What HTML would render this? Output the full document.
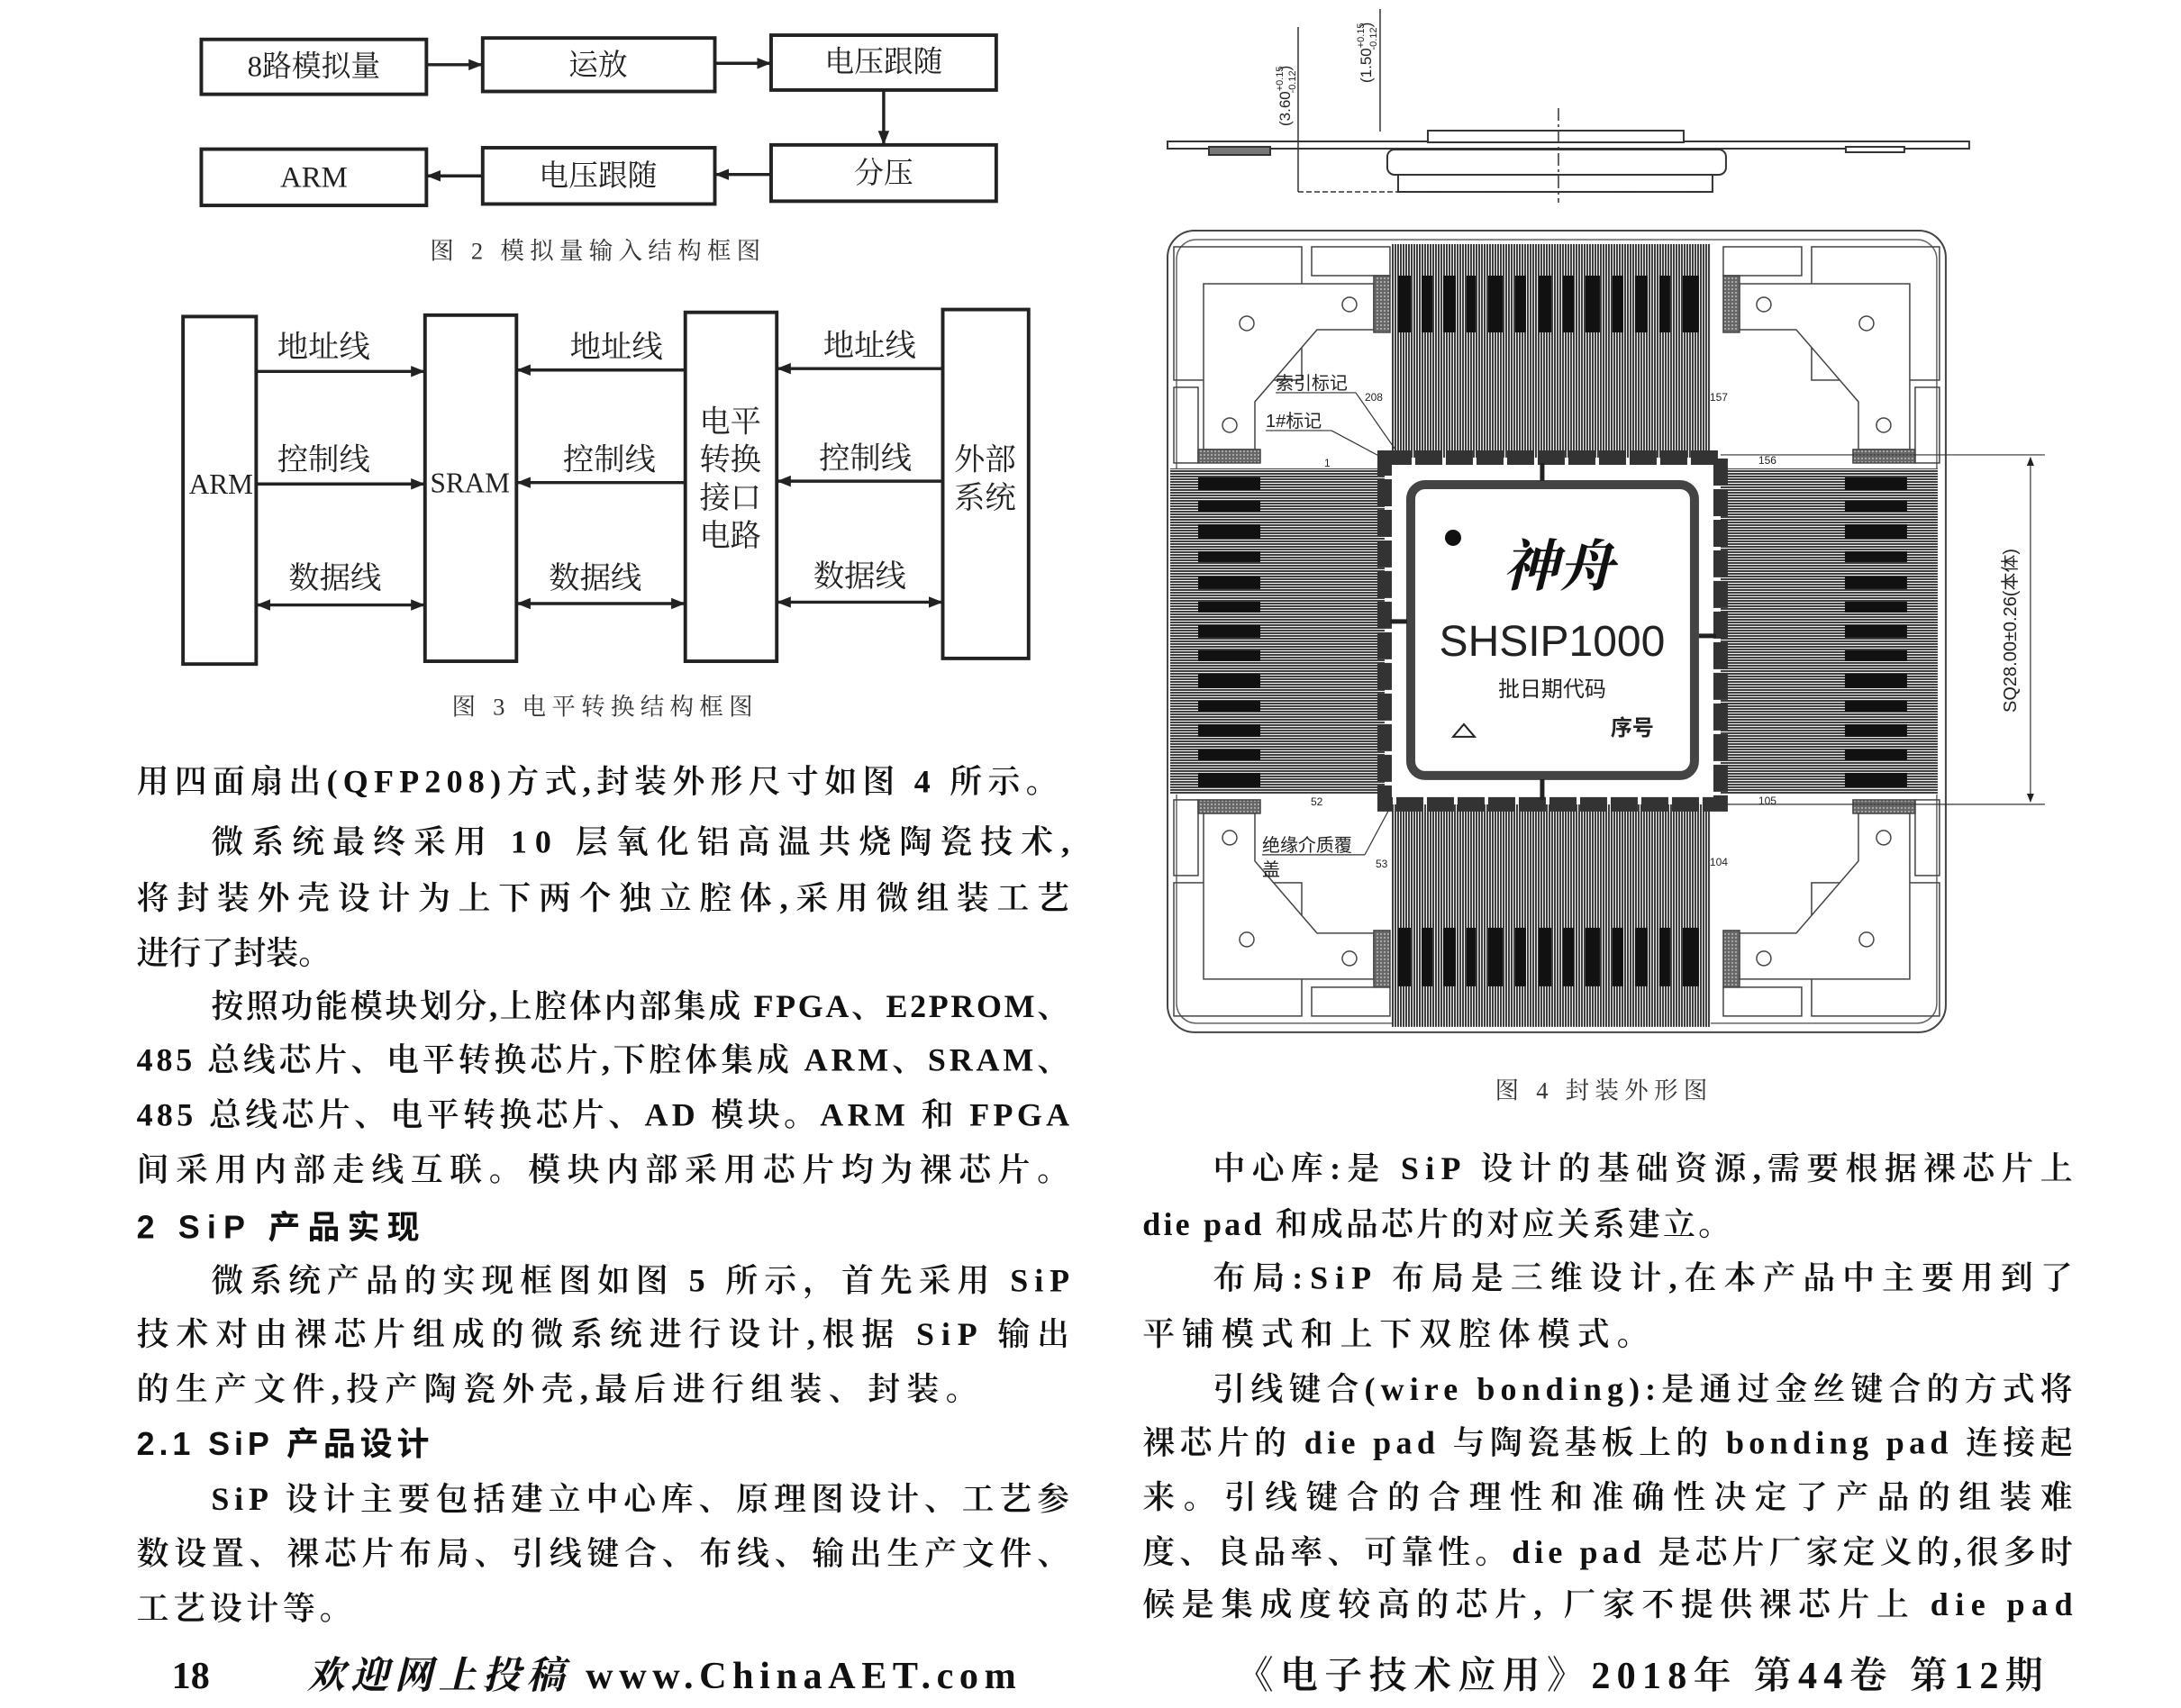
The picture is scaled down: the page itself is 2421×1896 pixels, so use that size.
<!DOCTYPE html>
<html><head><meta charset="utf-8"><style>
html,body{margin:0;padding:0;background:#fff}
svg{display:block}
.t{font-family:"Liberation Serif","Noto Serif CJK SC",serif;font-size:23px;fill:#111;font-weight:600}
.h{font-family:"Liberation Sans","Noto Sans CJK SC",sans-serif;font-size:23px;fill:#111;font-weight:bold}
.b{font-family:"Liberation Serif","Noto Serif CJK SC",serif;font-size:21px;fill:#222}
.c{font-family:"Liberation Serif","Noto Serif CJK SC",serif;font-size:17px;fill:#333;letter-spacing:4px}
.s{font-family:"Liberation Sans","Noto Sans CJK SC",sans-serif;fill:#222}
</style></head><body>
<svg width="2421" height="1896" viewBox="0 0 1550 1214" xmlns="http://www.w3.org/2000/svg">
<defs>
<marker id="a" markerWidth="10" markerHeight="8" refX="9" refY="4" orient="auto" markerUnits="userSpaceOnUse"><path d="M0,0 L10,4 L0,8 z" fill="#222"/></marker>
<marker id="as" markerWidth="10" markerHeight="8" refX="1" refY="4" orient="auto" markerUnits="userSpaceOnUse"><path d="M10,0 L0,4 L10,8 z" fill="#222"/></marker>
<pattern id="vl" width="3" height="10" patternUnits="userSpaceOnUse"><rect width="3" height="10" fill="#fff"/><rect width="2" height="10" fill="#3a3a3a"/></pattern>
<pattern id="hl" width="10" height="3" patternUnits="userSpaceOnUse"><rect width="10" height="3" fill="#fff"/><rect width="10" height="2" fill="#3a3a3a"/></pattern>
<pattern id="hatch" width="4" height="4" patternUnits="userSpaceOnUse"><rect width="4" height="4" fill="#666"/><rect width="2" height="2" fill="#aaa"/></pattern>
</defs>
<rect width="1550" height="1214" fill="#fff"/>

<!-- Fig 2 -->
<g fill="#fff" stroke="#222" stroke-width="2.5">
<rect x="143" y="28" width="160" height="39"/>
<rect x="343" y="27" width="165" height="38"/>
<rect x="548" y="25" width="160" height="39"/>
<rect x="143" y="106" width="160" height="40"/>
<rect x="343" y="105" width="165" height="40"/>
<rect x="548" y="103" width="160" height="40"/>
</g>
<g stroke="#222" stroke-width="2.2" fill="none">
<line x1="303" y1="46" x2="342" y2="46" marker-end="url(#a)"/>
<line x1="508" y1="45" x2="547" y2="45" marker-end="url(#a)"/>
<line x1="628" y1="64" x2="628" y2="102" marker-end="url(#a)"/>
<line x1="548" y1="124" x2="509" y2="124" marker-end="url(#a)"/>
<line x1="343" y1="125" x2="304" y2="125" marker-end="url(#a)"/>
</g>
<g class="b" text-anchor="middle">
<text x="223" y="54">8路模拟量</text>
<text x="425" y="53">运放</text>
<text x="628" y="51">电压跟随</text>
<text x="223" y="133">ARM</text>
<text x="425" y="132">电压跟随</text>
<text x="628" y="130">分压</text>
</g>
<text class="c" x="425" y="184" text-anchor="middle">图 2  模拟量输入结构框图</text>

<!-- Fig 3 -->
<g fill="#fff" stroke="#222" stroke-width="2.5">
<rect x="130" y="225" width="52" height="247"/>
<rect x="302" y="224" width="65" height="246"/>
<rect x="487" y="222" width="65" height="248"/>
<rect x="670" y="220" width="61" height="248"/>
</g>
<g stroke="#222" stroke-width="2.2" fill="none">
<line x1="182" y1="264" x2="301" y2="264" marker-end="url(#a)"/>
<line x1="487" y1="263" x2="368" y2="263" marker-end="url(#a)"/>
<line x1="670" y1="262" x2="553" y2="262" marker-end="url(#a)"/>
<line x1="182" y1="344" x2="301" y2="344" marker-end="url(#a)"/>
<line x1="487" y1="343" x2="368" y2="343" marker-end="url(#a)"/>
<line x1="670" y1="342" x2="553" y2="342" marker-end="url(#a)"/>
<line x1="183" y1="430" x2="301" y2="430" marker-start="url(#as)" marker-end="url(#a)"/>
<line x1="368" y1="429" x2="486" y2="429" marker-start="url(#as)" marker-end="url(#a)"/>
<line x1="553" y1="428" x2="669" y2="428" marker-start="url(#as)" marker-end="url(#a)"/>
</g>
<g class="b" text-anchor="middle" style="font-size:22px">
<text x="230" y="254">地址线</text><text x="438" y="254">地址线</text><text x="618" y="253">地址线</text>
<text x="230" y="334">控制线</text><text x="433" y="334">控制线</text><text x="615" y="333">控制线</text>
<text x="238" y="418">数据线</text><text x="423" y="418">数据线</text><text x="611" y="417">数据线</text>
<text x="157" y="351" style="font-size:20px">ARM</text>
<text x="334" y="350" style="font-size:20px">SRAM</text>
<text x="519" y="307">电平</text><text x="519" y="334">转换</text><text x="519" y="361">接口</text><text x="519" y="388">电路</text>
<text x="700" y="334">外部</text><text x="700" y="361">系统</text>
</g>
<text class="c" x="430" y="508" text-anchor="middle">图 3  电平转换结构框图</text>

<!-- Fig 4 (original coords) -->
<g transform="scale(0.64023)">
<g stroke="#333" stroke-width="2" fill="#fff">
<rect x="1296" y="157" width="890" height="8"/>
<rect x="1342" y="163" width="68" height="9" fill="#777"/>
<rect x="2049" y="163" width="65" height="6"/>
<rect x="1585" y="145" width="284" height="13"/>
<rect x="1540" y="166" width="376" height="28" rx="8"/>
<rect x="1552" y="194" width="349" height="19"/>
</g>
<g stroke="#333" stroke-width="1.5" fill="none">
<line x1="1441" y1="30" x2="1441" y2="213"/>
<line x1="1532" y1="10" x2="1532" y2="146"/>
<line x1="1441" y1="213" x2="1900" y2="213" stroke-dasharray="6,3"/>
<line x1="1730" y1="120" x2="1730" y2="225" stroke-dasharray="14,4,3,4"/>
</g>
<text class="s" transform="translate(1432,140) rotate(-90)" font-size="17">(3.60<tspan font-size="11" dy="-8">+0.15</tspan><tspan font-size="11" dx="-30" dy="14">-0.12</tspan><tspan dy="-6">)</tspan></text>
<text class="s" transform="translate(1522,92) rotate(-90)" font-size="17">(1.50<tspan font-size="11" dy="-8">+0.15</tspan><tspan font-size="11" dx="-30" dy="14">-0.12</tspan><tspan dy="-6">)</tspan></text>

<rect x="1296" y="256" width="864" height="890" rx="30" fill="#fff" stroke="#444" stroke-width="2"/>
<rect x="1306" y="266" width="844" height="870" rx="22" fill="none" stroke="#666" stroke-width="1.5"/>

<g id="cn" stroke="#444" stroke-width="1.5" fill="#fff">
<rect x="1303" y="274" width="142" height="148" fill="none"/>
<rect x="1456" y="274" width="87" height="32" fill="none"/>
<rect x="1303" y="430" width="27" height="84" fill="none"/>
<polygon points="1336,315 1525,315 1525,366 1462,366 1393,446 1393,499 1336,499"/>
<rect x="1525" y="306" width="18" height="63" fill="url(#hatch)"/>
<rect x="1330" y="499" width="69" height="15" fill="url(#hatch)"/>
<circle cx="1384" cy="359" r="8"/><circle cx="1498" cy="338" r="8"/><circle cx="1365" cy="472" r="8"/>
</g>
<use href="#cn" transform="translate(3456,0) scale(-1,1)"/>
<use href="#cn" transform="translate(0,1402) scale(1,-1)"/>
<use href="#cn" transform="translate(3456,1402) scale(-1,-1)"/>

<rect x="1545" y="271" width="354" height="240" fill="url(#vl)"/>
<rect x="1545" y="893" width="354" height="247" fill="url(#vl)"/>
<rect x="1299" y="520" width="238" height="362" fill="url(#hl)"/>
<rect x="1910" y="520" width="241" height="362" fill="url(#hl)"/>
<g fill="#111">
<rect x="1552" y="306" width="14" height="63"/><rect x="1578" y="306" width="12" height="63"/><rect x="1602" y="306" width="14" height="63"/><rect x="1628" y="306" width="10" height="63"/><rect x="1652" y="306" width="16" height="63"/><rect x="1682" y="306" width="12" height="63"/><rect x="1708" y="306" width="14" height="63"/><rect x="1735" y="306" width="12" height="63"/><rect x="1760" y="306" width="16" height="63"/><rect x="1790" y="306" width="12" height="63"/><rect x="1815" y="306" width="14" height="63"/><rect x="1842" y="306" width="12" height="63"/><rect x="1868" y="306" width="18" height="63"/>
<rect x="1552" y="1030" width="14" height="65"/><rect x="1578" y="1030" width="12" height="65"/><rect x="1602" y="1030" width="14" height="65"/><rect x="1628" y="1030" width="10" height="65"/><rect x="1652" y="1030" width="16" height="65"/><rect x="1682" y="1030" width="12" height="65"/><rect x="1708" y="1030" width="14" height="65"/><rect x="1735" y="1030" width="12" height="65"/><rect x="1760" y="1030" width="16" height="65"/><rect x="1790" y="1030" width="12" height="65"/><rect x="1815" y="1030" width="14" height="65"/><rect x="1842" y="1030" width="12" height="65"/><rect x="1868" y="1030" width="18" height="65"/>
<rect x="1330" y="530" width="69" height="14"/><rect x="1330" y="556" width="69" height="12"/><rect x="1330" y="582" width="69" height="16"/><rect x="1330" y="612" width="69" height="12"/><rect x="1330" y="640" width="69" height="14"/><rect x="1330" y="668" width="69" height="12"/><rect x="1330" y="694" width="69" height="14"/><rect x="1330" y="722" width="69" height="12"/><rect x="1330" y="748" width="69" height="16"/><rect x="1330" y="778" width="69" height="12"/><rect x="1330" y="804" width="69" height="14"/><rect x="1330" y="832" width="69" height="12"/><rect x="1330" y="858" width="69" height="16"/>
<rect x="2048" y="530" width="69" height="14"/><rect x="2048" y="556" width="69" height="12"/><rect x="2048" y="582" width="69" height="16"/><rect x="2048" y="612" width="69" height="12"/><rect x="2048" y="640" width="69" height="14"/><rect x="2048" y="668" width="69" height="12"/><rect x="2048" y="694" width="69" height="14"/><rect x="2048" y="722" width="69" height="12"/><rect x="2048" y="748" width="69" height="16"/><rect x="2048" y="778" width="69" height="12"/><rect x="2048" y="804" width="69" height="14"/><rect x="2048" y="832" width="69" height="12"/><rect x="2048" y="858" width="69" height="16"/>
</g>

<rect x="1537" y="508" width="373" height="385" fill="#fff" stroke="#333" stroke-width="16" stroke-dasharray="30,4"/>
<rect x="1566" y="538" width="315" height="323" rx="16" fill="#fff" stroke="#444" stroke-width="10"/>
<line x1="1712" y1="514" x2="1712" y2="534" stroke="#222" stroke-width="5"/>
<line x1="1712" y1="865" x2="1712" y2="888" stroke="#222" stroke-width="5"/>
<line x1="1543" y1="690" x2="1562" y2="690" stroke="#222" stroke-width="5"/>
<line x1="1886" y1="706" x2="1905" y2="706" stroke="#222" stroke-width="5"/>
<circle cx="1613" cy="597" r="9" fill="#111"/>
<text x="1730" y="650" text-anchor="middle" font-family="'Noto Serif CJK SC',serif" font-size="62" font-weight="bold" font-style="italic" fill="#111">神舟</text>
<text class="s" x="1723" y="728" text-anchor="middle" font-size="48">SHSIP1000</text>
<text class="s" x="1723" y="773" text-anchor="middle" font-size="24">批日期代码</text>
<text class="s" x="1812" y="816" text-anchor="middle" font-size="24" font-weight="bold">序号</text>
<polygon points="1613,818 1625,804 1637,818" fill="none" stroke="#222" stroke-width="2"/>

<g class="s" font-size="20">
<text x="1416" y="432">索引标记</text>
<text x="1405" y="474">1#标记</text>
<text x="1401" y="945">绝缘介质覆</text>
<text x="1401" y="972">盖</text>
</g>
<g stroke="#333" stroke-width="1.2" fill="none">
<line x1="1416" y1="436" x2="1505" y2="436"/><line x1="1505" y1="436" x2="1560" y2="515"/>
<line x1="1405" y1="478" x2="1478" y2="478"/><line x1="1478" y1="478" x2="1538" y2="510"/>
<line x1="1401" y1="949" x2="1515" y2="949"/><line x1="1515" y1="949" x2="1545" y2="893"/>
<line x1="1910" y1="505" x2="2270" y2="505"/><line x1="1910" y1="893" x2="2270" y2="893"/>
<line x1="2254" y1="508" x2="2254" y2="890" marker-start="url(#as)" marker-end="url(#a)"/>
</g>
<g class="s" font-size="12" fill="#555">
<text x="1515" y="445">208</text><text x="1898" y="445">157</text>
<text x="1470" y="518">1</text><text x="1952" y="515">156</text>
<text x="1455" y="894">52</text><text x="1952" y="893">105</text>
<text x="1527" y="963">53</text><text x="1898" y="961">104</text>
</g>
<text class="s" transform="translate(2238,700) rotate(-90)" text-anchor="middle" font-size="20">SQ28.00±0.26(本体)</text>
</g>
<text class="c" x="1140" y="781" text-anchor="middle">图 4  封装外形图</text>

<g class="t">
<text x="97" y="563" textLength="655" lengthAdjust="spacing">用四面扇出(QFP208)方式,封装外形尺寸如图 4 所示。</text>
<text x="150" y="606" textLength="610" lengthAdjust="spacing">微系统最终采用 10 层氧化铝高温共烧陶瓷技术,</text>
<text x="97" y="646" textLength="663" lengthAdjust="spacing">将封装外壳设计为上下两个独立腔体,采用微组装工艺</text>
<text x="97" y="685" textLength="138" lengthAdjust="spacing">进行了封装。</text>
<text x="150" y="723" textLength="610" lengthAdjust="spacing">按照功能模块划分,上腔体内部集成 FPGA、E2PROM、</text>
<text x="97" y="761" textLength="663" lengthAdjust="spacing">485 总线芯片、电平转换芯片,下腔体集成 ARM、SRAM、</text>
<text x="97" y="800" textLength="663" lengthAdjust="spacing">485 总线芯片、电平转换芯片、AD 模块。ARM 和 FPGA</text>
<text x="97" y="839" textLength="663" lengthAdjust="spacing">间采用内部走线互联。模块内部采用芯片均为裸芯片。</text>
<text class="h" x="97" y="880" textLength="201" lengthAdjust="spacing">2 SiP 产品实现</text>
<text x="150" y="918" textLength="610" lengthAdjust="spacing">微系统产品的实现框图如图 5 所示，首先采用 SiP</text>
<text x="97" y="956" textLength="663" lengthAdjust="spacing">技术对由裸芯片组成的微系统进行设计,根据 SiP 输出</text>
<text x="97" y="995" textLength="598" lengthAdjust="spacing">的生产文件,投产陶瓷外壳,最后进行组装、封装。</text>
<text class="h" x="97" y="1034" textLength="208" lengthAdjust="spacing">2.1 SiP 产品设计</text>
<text x="150" y="1073" textLength="610" lengthAdjust="spacing">SiP 设计主要包括建立中心库、原理图设计、工艺参</text>
<text x="97" y="1112" textLength="663" lengthAdjust="spacing">数设置、裸芯片布局、引线键合、布线、输出生产文件、</text>
<text x="97" y="1151" textLength="153" lengthAdjust="spacing">工艺设计等。</text>
</g>
<g class="t">
<text x="862" y="838" textLength="611" lengthAdjust="spacing">中心库:是 SiP 设计的基础资源,需要根据裸芯片上</text>
<text x="812" y="878" textLength="418" lengthAdjust="spacing">die pad 和成品芯片的对应关系建立。</text>
<text x="862" y="916" textLength="611" lengthAdjust="spacing">布局:SiP 布局是三维设计,在本产品中主要用到了</text>
<text x="812" y="956" textLength="360" lengthAdjust="spacing">平铺模式和上下双腔体模式。</text>
<text x="862" y="995" textLength="611" lengthAdjust="spacing">引线键合(wire bonding):是通过金丝键合的方式将</text>
<text x="812" y="1033" textLength="661" lengthAdjust="spacing">裸芯片的 die pad 与陶瓷基板上的 bonding pad 连接起</text>
<text x="812" y="1072" textLength="661" lengthAdjust="spacing">来。引线键合的合理性和准确性决定了产品的组装难</text>
<text x="812" y="1111" textLength="661" lengthAdjust="spacing">度、良品率、可靠性。die pad 是芯片厂家定义的,很多时</text>
<text x="812" y="1148" textLength="661" lengthAdjust="spacing">候是集成度较高的芯片, 厂家不提供裸芯片上 die pad</text>
</g>
<g class="t" style="font-size:27px">
<text x="122" y="1200">18</text>
<text x="218" y="1200" textLength="504" lengthAdjust="spacing" font-weight="bold" font-style="italic">欢迎网上投稿 <tspan font-style="normal">www.ChinaAET.com</tspan></text>
<text x="878" y="1200" textLength="574" lengthAdjust="spacing">《电子技术应用》2018年 第44卷 第12期</text>
</g>
</svg>
</body></html>
